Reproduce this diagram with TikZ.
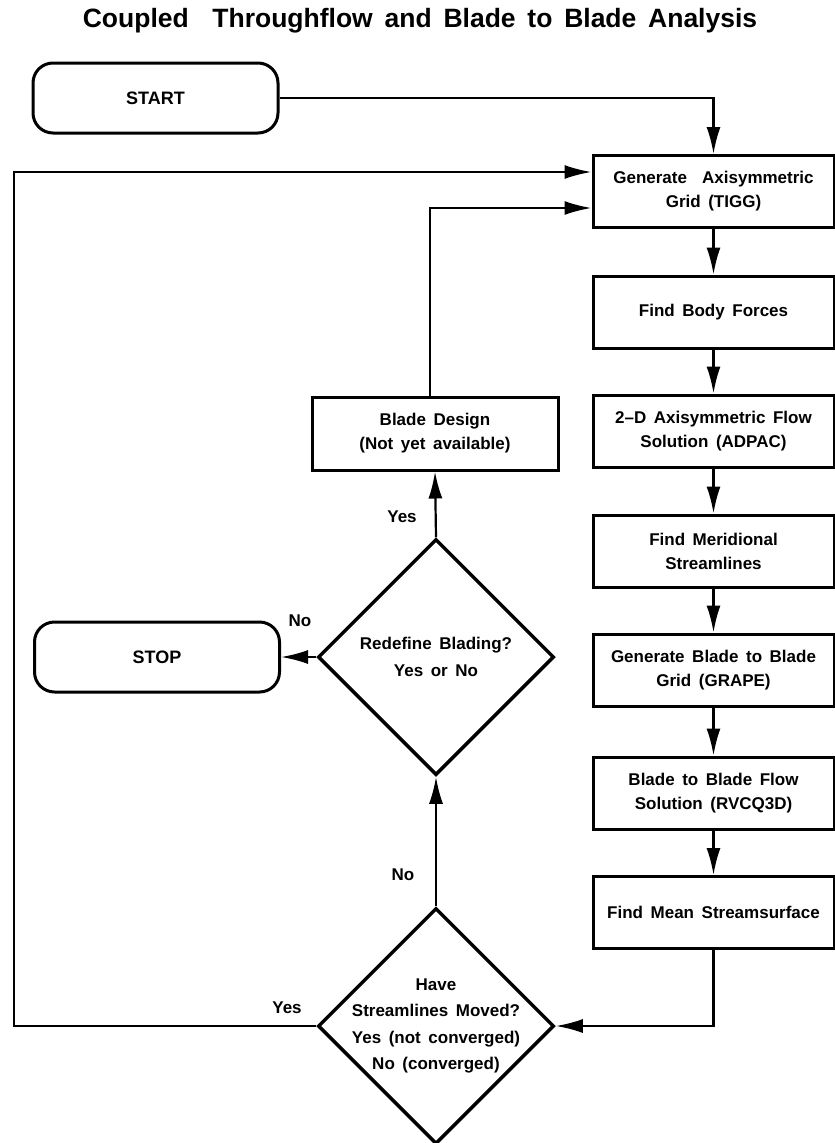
\documentclass[tikz,border=0pt]{standalone}
\usepackage{fontspec}
\setmainfont{Liberation Sans}[WordSpace=1.6]
\usetikzlibrary{arrows.meta,shapes.geometric}
\begin{document}
\begin{tikzpicture}[x=1pt,y=-1pt,
  txt/.style={font=\bfseries\fontsize{17}{24}\selectfont},
  proc/.style={draw, line width=3pt, minimum width=241pt, minimum height=72pt,
    align=center, inner sep=0pt, txt},
  term/.style={draw, line width=3pt, rounded corners=20pt, minimum width=245pt,
    minimum height=70pt, inner sep=0pt, font=\bfseries\fontsize{18}{24}\selectfont},
  dec/.style={draw, diamond, line width=3.5pt, minimum width=236pt,
    minimum height=236pt, inner sep=0pt},
  dtext/.style={align=center, font=\bfseries\fontsize{17}{26.5}\selectfont},
  conn/.style={line width=2.2pt, -{Latex[length=27pt,width=14pt]}},
  lab/.style={txt}
]
\useasboundingbox (0,0) rectangle (835,1143);

\node[font=\bfseries\fontsize{26.5}{30}\selectfont] (title) at (420,21) {Coupled\ \ Throughflow and Blade to Blade Analysis};

\node[term] (start) at (155.5,98) {START};
\node[term] (stop) at (157,657) {STOP};

\node[proc] (gen)  at (713.5,191.5) {Generate\ \ Axisymmetric\\Grid (TIGG)};
\node[proc] (body) at (713.5,312) {Find Body Forces};
\node[proc] (adp)  at (713.5,431) {2--D Axisymmetric Flow\\Solution (ADPAC)};
\node[proc] (mer)  at (713.5,551) {Find Meridional\\Streamlines};
\node[proc] (grp)  at (713.5,670) {Generate Blade to Blade\\Grid (GRAPE)};
\node[proc] (rvc)  at (713.5,793) {Blade to Blade Flow\\Solution (RVCQ3D)};
\node[proc] (mean) at (713.5,912.5) {Find Mean Streamsurface};

\node[proc, minimum width=246pt, minimum height=73pt] (bld) at (435,433.5) {Blade Design\\(Not yet available)};

\node[dec] (red) at (436,657) {};
\node[dtext] at (red) {Redefine Blading?\\Yes or No};
\node[dec] (have) at (436,1026) {};
\node[dtext] at (have) {Have\\Streamlines Moved?\\Yes (not converged)\\No (converged)};

% main chain
\draw[conn] (start.east) -| (gen.north);
\draw[conn] (gen) -- (body);
\draw[conn] (body) -- (adp);
\draw[conn] (adp) -- (mer);
\draw[conn] (mer) -- (grp);
\draw[conn] (grp) -- (rvc);
\draw[conn] (rvc) -- (mean);
\draw[conn] (mean.south) |- (have.east);

% loops
\draw[conn] (have.west) -- (14,1026) |- ([yshift=19.5pt]gen.west);
\draw[conn] (have.north) -- (red.south);
\draw[conn] (red.north) -- (bld.south);
\draw[conn] ([xshift=-5pt]bld.north) |- ([yshift=-16.5pt]gen.west);
\draw[conn] (red.west) -- (stop.east);

% labels
\node[lab] (l1) at (402,517) {Yes};
\node[lab] (l2) at (300,621) {No};
\node[lab] (l3) at (403,875) {No};
\node[lab] (l4) at (287,1008) {Yes};
\end{tikzpicture}
\end{document}
